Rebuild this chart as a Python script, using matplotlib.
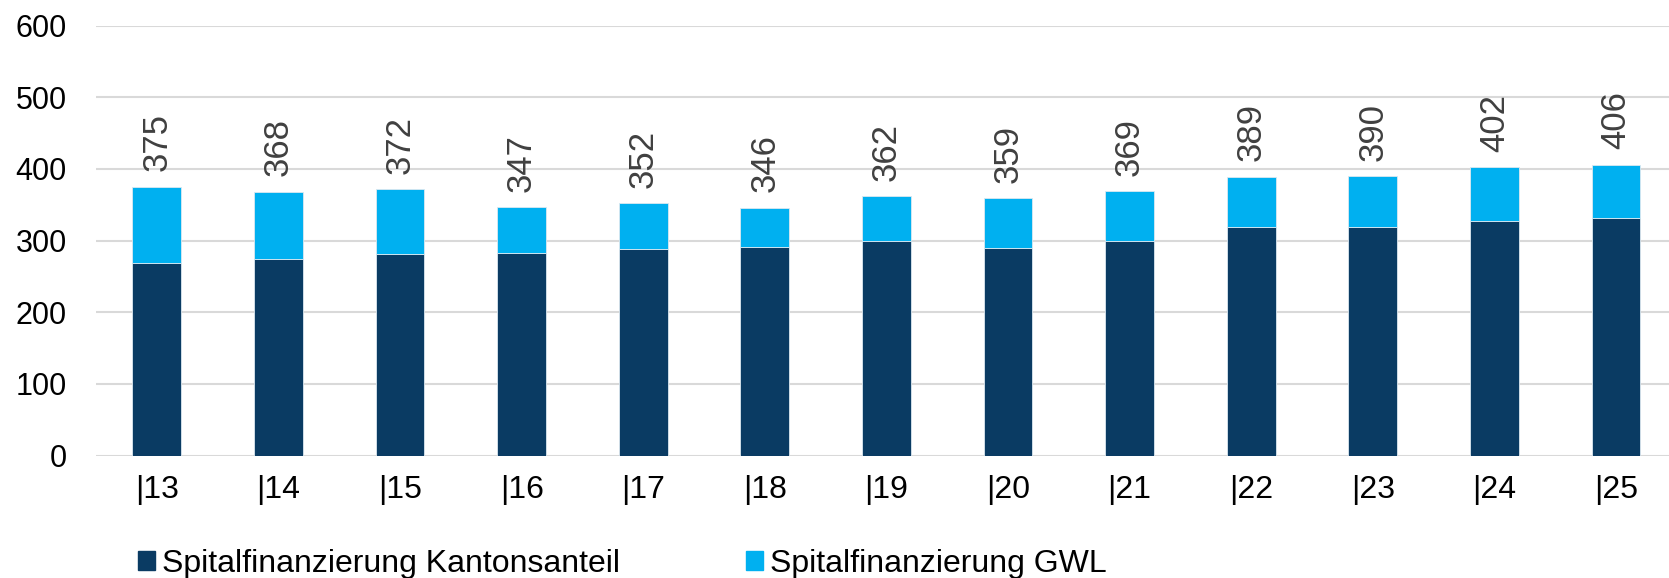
import numpy as np
import matplotlib
matplotlib.use("Agg")
import matplotlib.pyplot as plt
from matplotlib.patches import Patch

plt.rcParams["font.family"] = ["Liberation Sans", "DejaVu Sans"]

# Données (Mio. CHF)
annees = ["|13", "|14", "|15", "|16", "|17", "|18", "|19", "|20", "|21", "|22", "|23", "|24", "|25"]
kantonsanteil = [269, 274, 281, 283, 288, 291, 300, 290, 299, 319, 319, 327, 331]
totaux = [375, 368, 372, 347, 352, 346, 362, 359, 369, 389, 390, 402, 406]
gwl = [t - k for t, k in zip(totaux, kantonsanteil)]

COL_KANTON = "#0A3B63"
COL_GWL = "#00B0F0"

W, H = 1669, 578
fig = plt.figure(figsize=(W / 100, H / 100), dpi=100)
# zone de tracé façon Excel : la dernière catégorie dépasse un peu le bord droit
ax = fig.add_axes([96 / W, 122.5 / H, 13 * 121.6 / W, 430 / H])

x = np.arange(len(annees))
ax.bar(x, kantonsanteil, width=0.4, color=COL_KANTON, edgecolor="#DCE8F0", linewidth=0.6,
       label="Spitalfinanzierung Kantonsanteil", zorder=3)
ax.bar(x, gwl, width=0.4, bottom=kantonsanteil, color=COL_GWL, edgecolor="#DCE8F0",
       linewidth=0.6, label="Spitalfinanzierung GWL", zorder=3)

# étiquettes des totaux, verticales
for xi, t in zip(x, totaux):
    ax.annotate(f"{t}", (xi, t), xytext=(0, 11), textcoords="offset points",
                rotation=90, ha="center", va="bottom", fontsize=25, color="#404040")

ax.set_xlim(-0.5, 12.5)
ax.set_ylim(0, 600)
ax.set_yticks(range(0, 601, 100))
ax.set_xticks(x)
ax.set_xticklabels(annees)
ax.grid(axis="y", color="#D9D9D9", linewidth=1.5, zorder=0)
ax.set_axisbelow(True)
for s in ax.spines.values():
    s.set_visible(False)
ax.tick_params(axis="both", length=0, colors="black")
ax.tick_params(axis="y", pad=21, labelsize=22)
ax.tick_params(axis="x", pad=14, labelsize=23)

handles = [Patch(color=COL_KANTON, label="Spitalfinanzierung Kantonsanteil"),
           Patch(color=COL_GWL, label="Spitalfinanzierung GWL")]
fig.legend(handles=handles, loc="center left", bbox_to_anchor=(138 / W, 14 / H),
           ncol=2, frameon=False, fontsize=23, handlelength=0.53, handleheight=0.53,
           handletextpad=0.22, columnspacing=3.95, borderpad=0, borderaxespad=0)

fig.savefig("out.png", dpi=100)
